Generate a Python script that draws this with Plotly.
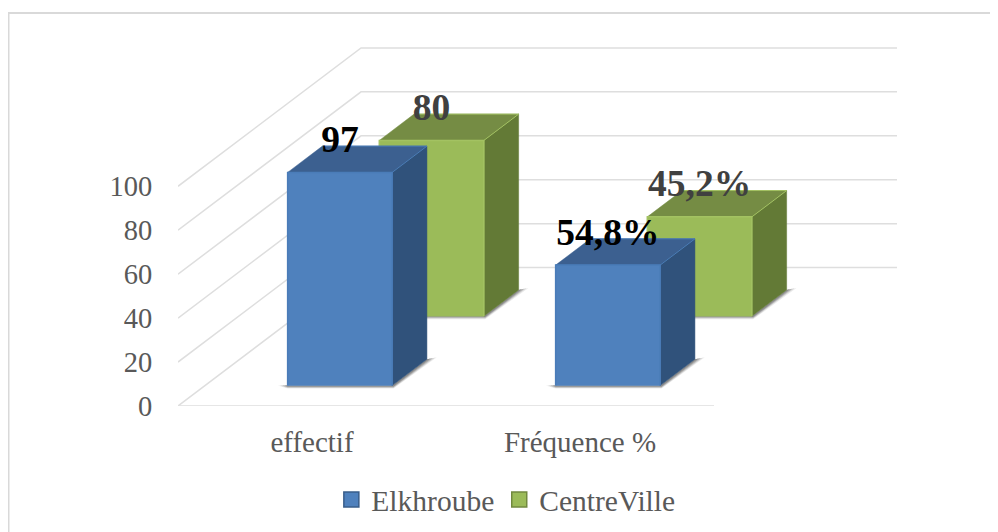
import plotly.graph_objects as go

categories = ["effectif", "Fréquence %"]
elkhroube = [97, 54.8]
centre_ville = [80, 45.2]
elkhroube_labels = ["97", "54,8%"]
centre_labels = ["80", "45,2%"]
y_ticks = [0, 20, 40, 60, 80, 100]
cat_pos = [0, 1]

# oblique projection: depth d shifts x and y in data units
DX, DY = 0.683, 63.0
BAR_X, BAR_W, BAR_D = 0.308, 0.39, 0.19
D_BLUE, D_GREEN = 0.148, 0.649
GRID = "#dedede"
PAGE = 8  # the page body adds this margin around the figure


def P(x, y, d):
    return x + d * DX, y + d * DY


def poly(points, fill, line=None, lw=0.0):
    xs, ys = zip(*points)
    return go.Scatter(
        x=list(xs) + [xs[0]], y=list(ys) + [ys[0]], mode="lines", fill="toself",
        fillcolor=fill, line=dict(color=line or fill, width=lw),
        hoverinfo="skip", showlegend=False, cliponaxis=False)


def seg(points, color, lw):
    xs, ys = zip(*points)
    return go.Scatter(x=list(xs), y=list(ys), mode="lines", line=dict(color=color, width=lw),
                      hoverinfo="skip", showlegend=False, cliponaxis=False)


def bar(c, v, d, front, side, top, edge):
    x0, x1 = c + BAR_X, c + BAR_X + BAR_W
    d1 = d + BAR_D
    tr = []
    # soft floor shadow, fading layers
    for col, g in (("#ececec", 1.0), ("#d0d0d0", 0.78), ("#adadad", 0.55), ("#8c8c8c", 0.3)):
        tr.append(poly([P(x0 - 0.037 * g, 0, d), P(x0, -1.4 * g, d), P(x1 + 0.005, -1.4 * g, d),
                        P(x1 + 0.037 * g, 0.9 * g, d1), P(x1, 0, d1), P(x1, 0, d), P(x0, 0, d)], col))
    tr.append(poly([P(x0, v, d), P(x0, v, d1), P(x1, v, d1), P(x1, v, d)], top, lw=0.5))
    tr.append(poly([P(x1, 0, d), P(x1, 0, d1), P(x1, v, d1), P(x1, v, d)], side, lw=0.5))
    tr.append(poly([P(x0, 0, d), P(x1, 0, d), P(x1, v, d), P(x0, v, d)], front, lw=0.5))
    tr.append(seg([P(x0, 0, d), P(x0, v, d), P(x1, v, d), P(x1, 0, d)], edge, 1.5))
    tr.append(seg([P(x1, v, d), P(x1, v, d1), P(x0, v, d1)], edge, 1.0))
    return tr


fig = go.Figure()

for t in y_ticks:
    fig.add_trace(seg([P(0, t, 0), P(0, t, 1), P(cat_pos[-1] + 1, t, 1)], GRID, 1.5))
fig.add_trace(seg([P(0, 0, 0), P(cat_pos[-1] + 1, 0, 0)], GRID, 1.5))

for i, c in enumerate(cat_pos):
    for t in bar(c, centre_ville[i], D_GREEN, "#9bbb59", "#637a36", "#758c44", "#a3c262"):
        fig.add_trace(t)
    for t in bar(c, elkhroube[i], D_BLUE, "#4f81bd", "#30527b", "#3c6090", "#4a7cb8"):
        fig.add_trace(t)

# data labels
fig.add_trace(go.Scatter(
    x=[P(c + BAR_X + BAR_W / 2, 0, D_BLUE)[0] for c in cat_pos],
    y=[P(0, v + 13.4, D_BLUE)[1] for v in elkhroube],
    text=elkhroube_labels, mode="text", textposition="middle center",
    textfont=dict(family="Liberation Serif", size=37.5, color="#000000", weight="bold"),
    hoverinfo="skip", showlegend=False, cliponaxis=False))
fig.add_trace(go.Scatter(
    x=[P(c + BAR_X + BAR_W / 2, 0, D_GREEN)[0] for c in cat_pos],
    y=[P(0, v + 13.6, D_GREEN)[1] for v in centre_ville],
    text=centre_labels, mode="text", textposition="middle center",
    textfont=dict(family="Liberation Serif", size=37.5, color="#404040", weight="bold"),
    hoverinfo="skip", showlegend=False, cliponaxis=False))

# legend keys
fig.add_trace(go.Scatter(x=[None], y=[None], mode="markers", name="Elkhroube",
                         marker=dict(symbol="square", size=15, color="#4f81bd", line=dict(color="#385d8a", width=1.5))))
fig.add_trace(go.Scatter(x=[None], y=[None], mode="markers", name="CentreVille",
                         marker=dict(symbol="square", size=15, color="#9bbb59", line=dict(color="#71893f", width=1.5))))

W, H = 998, 532
L, R, T, B = 178 - PAGE, 897 - PAGE, 47 - PAGE, 406.5 - PAGE
fx = lambda px: (px - PAGE - L) / (R - L)
fy = lambda py: (B - (py - PAGE)) / (B - T)
fig.update_layout(
    width=W, height=H, autosize=False,
    margin=dict(l=L, r=W - R, t=T, b=H - B, pad=0),
    paper_bgcolor="white", plot_bgcolor="white",
    font=dict(family="Liberation Serif", size=28, color="#595959"),
    xaxis=dict(range=[0, (R - L) / 268], tickmode="array",
               tickvals=[c + 0.5 for c in cat_pos], ticktext=categories,
               showgrid=False, zeroline=False, showline=False,
               ticks="outside", ticklen=10, tickcolor="rgba(0,0,0,0)", tickfont=dict(size=29, color="#595959")),
    yaxis=dict(range=[0, (B - T) / 2.2], tickmode="array", tickvals=y_ticks,
               showgrid=False, zeroline=False, showline=False,
               ticks="outside", ticklen=19, tickcolor="rgba(0,0,0,0)", tickfont=dict(size=28.5, color="#595959")),
    legend=dict(orientation="h", xref="container", yref="container", x=0.324, y=0.1244, xanchor="left", yanchor="top",
                font=dict(size=29.5, color="#595959"),
                bgcolor="rgba(0,0,0,0)", tracegroupgap=0),
    shapes=[dict(type="path", xref="paper", yref="paper",
                 path=f"M {fx(8.5)} {fy(532 + PAGE)} L {fx(8.5)} {fy(13)} L {fx(998)} {fy(13)}",
                 line=dict(color="#d9d9d9", width=2))],
)
fig.write_html("out.html")
